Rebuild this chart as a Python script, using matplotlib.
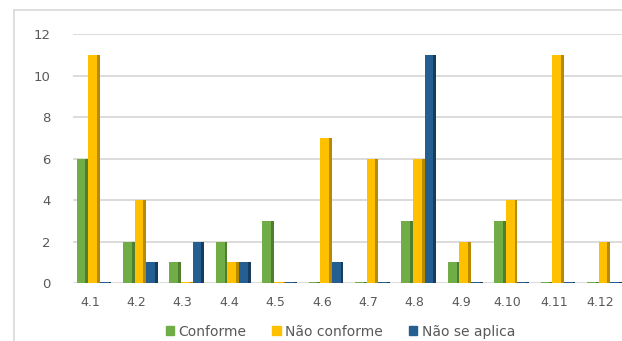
import matplotlib
matplotlib.use('Agg')
import matplotlib.pyplot as plt
from matplotlib.lines import Line2D
from matplotlib.patches import Patch
import numpy as np

# data
categories = ['4.1', '4.2', '4.3', '4.4', '4.5', '4.6', '4.7', '4.8', '4.9', '4.10', '4.11', '4.12']
conforme = [6, 2, 1, 2, 3, 0, 0, 3, 1, 3, 0, 0]
nao_conforme = [11, 4, 0, 1, 0, 7, 6, 6, 2, 4, 11, 2]
nao_se_aplica = [0, 1, 2, 1, 0, 1, 0, 11, 0, 0, 0, 0]

series = [
    ('Conforme', conforme, '#70AD47', '#4E7F30'),
    ('Não conforme', nao_conforme, '#FFC000', '#B88A00'),
    ('Não se aplica', nao_se_aplica, '#255E91', '#173C5E'),
]

fig = plt.figure(figsize=(6.22, 3.41), dpi=100)
ax = fig.add_axes([0.117, 0.170, 0.883, 0.730])

x = np.arange(len(categories))
slot = 0.25
front = 0.19
side = 0.06
shift = 0.09
for i, (name, vals, col, dark) in enumerate(series):
    pos = x + (i - 1) * slot + shift
    h = np.maximum(np.array(vals, dtype=float), 0.05)
    ax.bar(pos - side / 2, h, width=front, color=col, zorder=3, linewidth=0)
    ax.bar(pos + front / 2, h, width=side, color=dark, zorder=3, linewidth=0)

ax.set_ylim(0, 12)
ax.set_yticks(range(0, 13, 2))
ax.set_xlim(-0.367, 11.47)
ax.set_xticks(x)
ax.set_xticklabels(categories)
ax.grid(axis='y', color='#D9D9D9', linewidth=1.3, zorder=0)
ax.set_axisbelow(True)
for s in ax.spines.values():
    s.set_visible(False)
ax.tick_params(axis='y', length=0, pad=16, labelsize=9.5, labelcolor='#595959')
ax.tick_params(axis='x', length=0, pad=9, labelsize=9, labelcolor='#595959')

handles = [Patch(color=c, label=n) for n, _, c, _ in series]
fig.legend(handles=handles, loc='center', bbox_to_anchor=(0.547, 0.027), ncol=3,
           frameon=False, fontsize=10, handlelength=0.6, handleheight=0.6,
           handletextpad=0.3, columnspacing=1.9, labelcolor='#595959')

# outer chart border (left and top)
fig.add_artist(Line2D([14 / 622, 14 / 622], [0, 1 - 10 / 341], color='#D9D9D9', lw=1.2))
fig.add_artist(Line2D([14 / 622, 1], [1 - 10 / 341, 1 - 10 / 341], color='#D9D9D9', lw=1.2))

fig.savefig('out.png', dpi=100)
